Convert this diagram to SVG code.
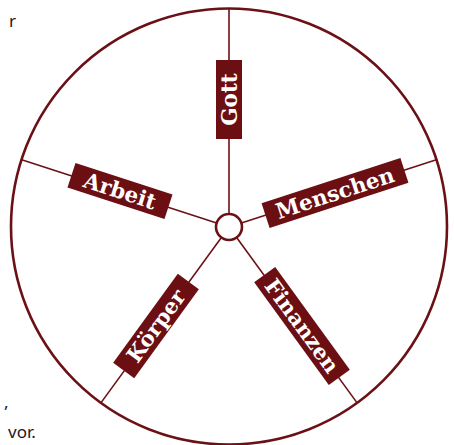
<svg xmlns="http://www.w3.org/2000/svg" width="454" height="445" viewBox="0 0 454 445">
<style>
.rim{fill:none;stroke:#6b1116;stroke-width:2.6}
.spoke{stroke:#6b1116;stroke-width:1.6;fill:none}
.hub{fill:#fff;stroke:#6b1116;stroke-width:2.6}
.box{fill:#6b0f13}
.lbl{fill:#fff;font-family:"DejaVu Serif",serif;font-weight:bold;font-size:21.5px;text-anchor:middle}
.page{fill:#1a1a1a;font-family:"Noto Sans","Open Sans",sans-serif;font-size:17px}
</style>
<rect width="454" height="445" fill="#fff"/>
<text class="page" x="9" y="27">r</text>
<text class="page" x="4" y="408">,</text>
<text class="page" x="8" y="438">vor.</text>
<g id="connectors">
<circle class="rim" cx="229" cy="226.5" r="218"/>
<line class="spoke" x1="229" y1="214" x2="229" y2="8.5"/>
<line class="spoke" x1="241.4" y1="223" x2="436.3" y2="159.7"/>
<line class="spoke" x1="236.6" y1="237.5" x2="357.1" y2="402.9"/>
<line class="spoke" x1="221.4" y1="237.5" x2="100.9" y2="402.9"/>
<line class="spoke" x1="216.6" y1="223" x2="21.7" y2="159.7"/>
</g>
<g id="hub"><circle class="hub" cx="229" cy="227" r="13"/></g>
<g id="gott" transform="translate(229,99.5) rotate(-90)">
<rect class="box" x="-39.5" y="-13" width="79" height="26"/>
<text class="lbl" x="0" y="7.5">Gott</text>
</g>
<g id="menschen" transform="translate(335,193) rotate(-18)">
<rect class="box" x="-73" y="-13" width="146" height="26"/>
<text class="lbl" x="0" y="7.5">Menschen</text>
</g>
<g id="arbeit" transform="translate(120,191) rotate(18)">
<rect class="box" x="-51" y="-13" width="102" height="26"/>
<text class="lbl" x="0" y="7.5">Arbeit</text>
</g>
<g id="koerper" transform="translate(156,326) rotate(-54)">
<rect class="box" x="-55" y="-13" width="110" height="26"/>
<text class="lbl" x="0" y="7.5">Körper</text>
</g>
<g id="finanzen" transform="translate(302,326) rotate(54)">
<rect class="box" x="-63.5" y="-13" width="127" height="26"/>
<text class="lbl" x="0" y="7.5">Finanzen</text>
</g>
</svg>
